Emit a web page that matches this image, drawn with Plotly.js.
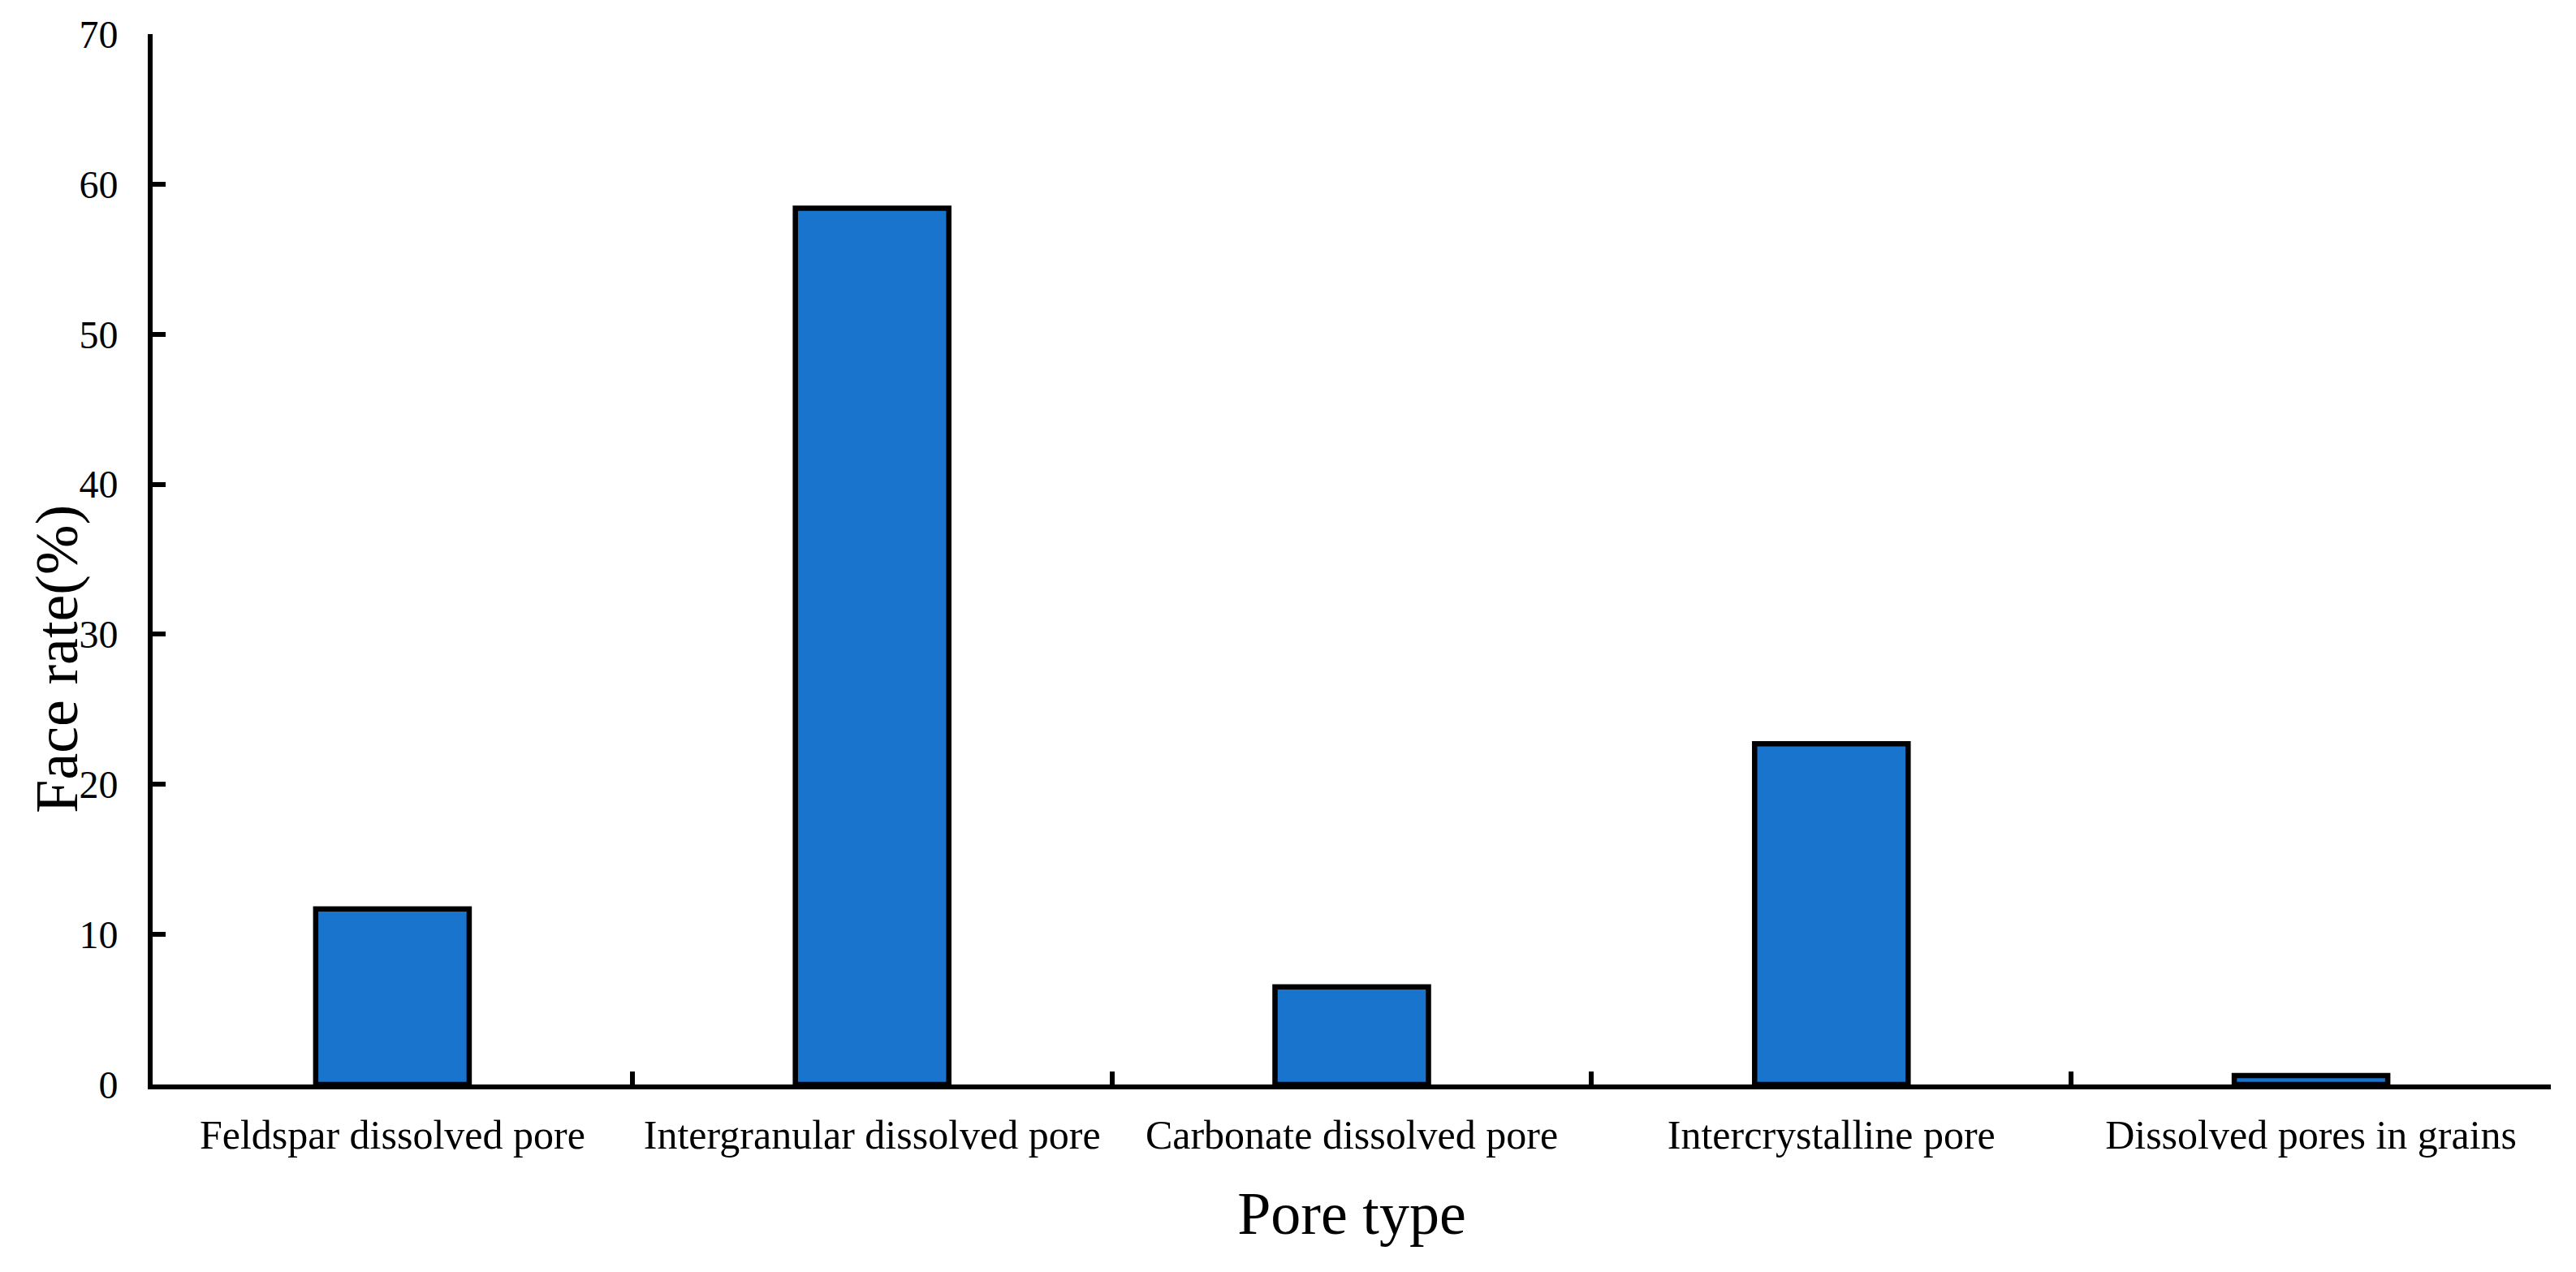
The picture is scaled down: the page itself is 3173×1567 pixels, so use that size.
<!DOCTYPE html>
<html>
<head>
<meta charset="utf-8">
<script src="https://cdn.plot.ly/plotly-3.0.1.min.js"></script>
<style>html,body{margin:0;padding:0;background:#fff;}#chart{width:3173px;height:1567px;}</style>
</head>
<body>
<div id="chart"></div>
<script>
var categories = ["Feldspar dissolved pore", "Intergranular dissolved pore", "Carbonate dissolved pore", "Intercrystalline pore", "Dissolved pores in grains"];
var faceRate = [11.7, 58.4, 6.5, 22.7, 0.6];
var yTickValues = [0, 10, 20, 30, 40, 50, 60, 70];
var xTitle = "Pore type";
var yTitle = "Face rate(%)";

var serif = "Liberation Serif, Times New Roman, serif";

var trace = {
  type: "bar",
  x: categories,
  y: faceRate,
  width: 0.32,
  marker: { color: "#1874CD", line: { color: "#000000", width: 6.5 } },
  hoverinfo: "x+y"
};

var layout = {
  width: 3173,
  height: 1567,
  margin: { l: 188, r: 31, t: 42, b: 231 },
  paper_bgcolor: "#ffffff",
  plot_bgcolor: "#ffffff",
  showlegend: false,
  font: { family: serif, color: "#000000", size: 50 },
  xaxis: {
    type: "category",
    showline: true,
    linecolor: "#000000",
    linewidth: 6,
    showgrid: false,
    zeroline: false,
    ticks: "inside",
    tickson: "boundaries",
    ticklen: 16,
    tickwidth: 6,
    tickcolor: "#000000",
    ticklabelstandoff: 13,
    tickfont: { family: serif, size: 50, color: "#000000" },
    title: { text: xTitle, font: { family: serif, size: 74, color: "#000000" }, standoff: 45 },
    fixedrange: true
  },
  yaxis: {
    range: [0, 70],
    tickvals: yTickValues,
    ticktext: yTickValues.map(String),
    showline: true,
    linecolor: "#000000",
    linewidth: 6,
    showgrid: false,
    zeroline: false,
    ticks: "inside",
    ticklen: 16,
    tickwidth: 6,
    tickcolor: "#000000",
    ticklabelstandoff: 27,
    tickfont: { family: serif, size: 48, color: "#000000" },
    fixedrange: true
  },
  annotations: [{
    text: yTitle,
    xref: "paper", yref: "paper",
    x: -0.04, y: 0.405,
    xanchor: "center", yanchor: "middle",
    textangle: -90,
    showarrow: false,
    font: { family: serif, size: 74, color: "#000000" }
  }]
};

Plotly.newPlot("chart", [trace], layout, { displayModeBar: false, staticPlot: true });
</script>
</body>
</html>
